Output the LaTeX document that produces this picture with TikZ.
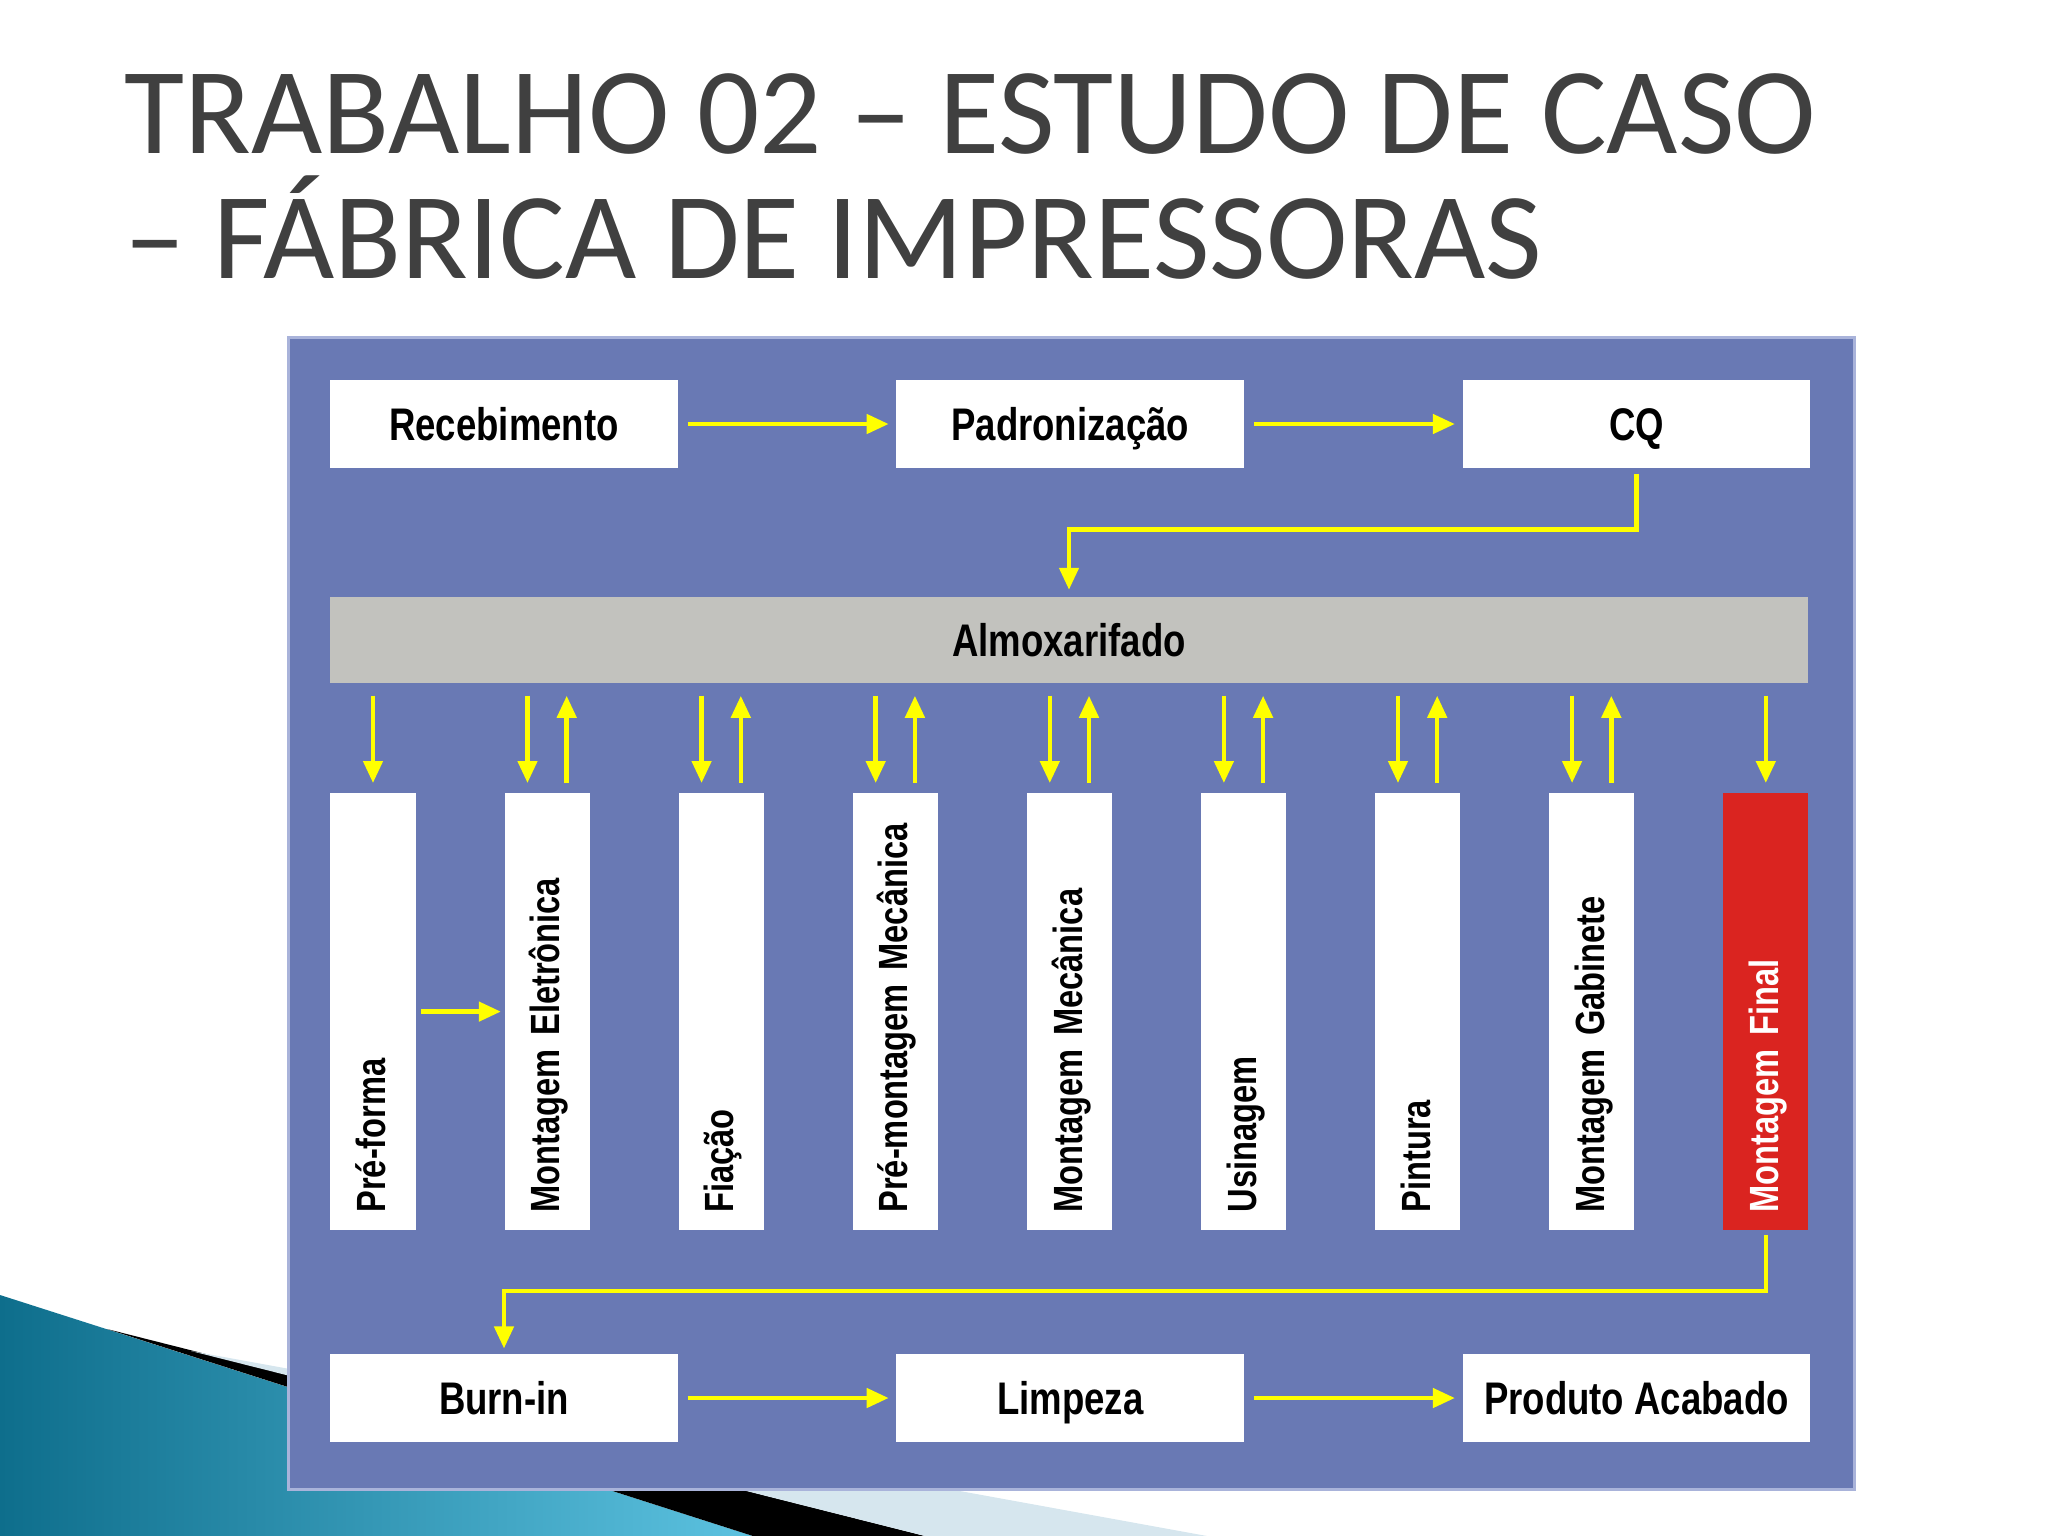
\documentclass[tikz,border=0pt]{standalone}
\usepackage{fontspec}
\usetikzlibrary{arrows.meta,positioning}
\newfontfamily\titlefont{Carlito}
\newfontfamily\narrowfont[FakeStretch=0.8]{Liberation Sans}
\definecolor{panelblue}{HTML}{6979B4}
\definecolor{panelrim}{HTML}{A9B3DA}
\definecolor{stockgray}{HTML}{C2C2BE}
\definecolor{finalred}{HTML}{DA2420}
\definecolor{flowyellow}{HTML}{FFFF00}
\definecolor{titlegray}{HTML}{404040}
\definecolor{tealdark}{HTML}{0E6E8C}
\definecolor{teallight}{HTML}{5CC2E0}
\definecolor{stripelight}{HTML}{D6E6EE}

\begin{document}
\begin{tikzpicture}[x=0.01cm,y=-0.01cm,
  every node/.style={font=\narrowfont\bfseries\fontsize{13}{15}\selectfont,align=center},
  stepbox/.style={fill=white,minimum width=3.475cm,minimum height=0.876cm,inner sep=0pt,text height=0.94em,text depth=0pt},
  station/.style={fill=white,rotate=90,minimum width=4.375cm,minimum height=0.85cm,inner xsep=0.18cm,inner ysep=0pt,
    text width=4.015cm,text height=0.72em,text depth=0pt,align=left,font=\narrowfont\bfseries\fontsize{11.6}{13}\selectfont},
  stationfinal/.style={station,fill=finalred,text=white},
  flow/.style={draw=flowyellow,line width=0.045cm,-{Triangle[length=0.22cm,width=0.19cm]}}]
\useasboundingbox (0,0) rectangle (2048,1536);
% slide decoration, bottom left
\shade[left color=tealdark,right color=teallight] (0,1295) -- (753,1536) -- (0,1536) -- cycle;
\fill[black] (107,1329) -- (925,1536) -- (753,1536) -- cycle;
\fill[stripelight] (191,1351) -- (1207,1536) -- (925,1536) -- cycle;
\node[anchor=base west,align=left,inner sep=0pt,text=titlegray,font=\titlefont\fontsize{35}{35.3}\selectfont] (title) at (124,278)
{TRABALHO 02 – ESTUDO DE CASO\\– FÁBRICA DE IMPRESSORAS};
\draw[fill=panelblue,draw=panelrim,line width=0.03cm] (288.6,337) rectangle (1854.7,1489);
% entrada
\node[stepbox] (rec) at (504,424) {Recebimento};
\node[stepbox,right=2.17cm of rec] (pad) {Padronização};
\node[stepbox,right=2.17cm of pad] (cq) {CQ};
\node[stepbox,fill=stockgray,minimum width=14.78cm,minimum height=0.86cm] (almox) at (1069,640) {Almoxarifado};
% postos
\foreach \n/\lbl/\sty [count=\i] in {pre/Pré-forma/station,elet/Montagem Eletrônica/station,fia/Fiação/station,
  premec/Pré-montagem Mecânica/station,mec/Montagem Mecânica/station,usi/Usinagem/station,pin/Pintura/station,
  gab/Montagem Gabinete/station,fin/Montagem Final/stationfinal}
  \node[\sty] (\n) at ({373+174.1*(\i-1)},1011.6) {\lbl};
% saida
\node[stepbox] (burn) at (504,1398) {Burn-in};
\node[stepbox,right=2.17cm of burn] (limp) {Limpeza};
\node[stepbox,right=2.17cm of limp] (prod) {Produto Acabado};
\draw[flow,shorten <=0.09cm,shorten >=0.07cm] (rec) -- (pad);
\draw[flow,shorten <=0.09cm,shorten >=0.07cm] (pad) -- (cq);
\draw[flow,shorten <=0.05cm,shorten >=0.065cm] (cq.south) -- ++(0,61) -| (almox.north);
\draw[flow,shorten <=0.12cm,shorten >=0.09cm] (almox.south -| pre.east) -- (pre.east);
\draw[flow,shorten <=0.12cm,shorten >=0.09cm] (almox.south -| fin.east) -- (fin.east);
\foreach \n in {elet,fia,premec,mec,usi,pin,gab}{
  \draw[flow,shorten <=0.12cm,shorten >=0.09cm] ([xshift=-0.196cm]almox.south -| \n.east) -- ([xshift=-0.196cm]\n.east);
  \draw[flow,shorten <=0.09cm,shorten >=0.12cm] ([xshift=0.196cm]\n.east) -- ([xshift=0.196cm]almox.south -| \n.east);
}
\draw[flow,shorten <=0.05cm,shorten >=0.03cm] (pre) -- (elet);
\draw[flow,shorten <=0.04cm,shorten >=0.05cm] (fin.west) -- ++(0,60) -| (burn.north);
\draw[flow,shorten <=0.09cm,shorten >=0.07cm] (burn) -- (limp);
\draw[flow,shorten <=0.09cm,shorten >=0.07cm] (limp) -- (prod);
\end{tikzpicture}
\end{document}
